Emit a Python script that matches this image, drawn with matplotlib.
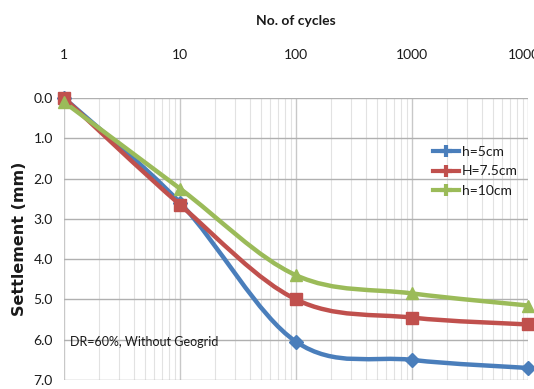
import numpy as np
import matplotlib
matplotlib.use("Agg")
import matplotlib.pyplot as plt
from matplotlib.path import Path
from matplotlib.patches import PathPatch
from matplotlib.lines import Line2D

cycles = [1, 10, 100, 1000, 10000]
h5 = [0.0, 2.6, 6.05, 6.5, 6.7]
h75 = [0.0, 2.65, 5.0, 5.45, 5.62]
h10 = [0.1, 2.25, 4.4, 4.85, 5.15]
series_labels = ["h=5cm", "H=7.5cm", "h=10cm"]
xtick_labels = ["1", "10", "100", "1000", "10000"]
ytick_vals = [0, 1, 2, 3, 4, 5, 6, 7]

narrow = "Lato"
tc = "#1a1a1a"

fig = plt.figure(figsize=(5.34, 3.89), dpi=100)
ax = fig.add_axes([0.12, 0.023, 0.869, 0.725])
ax.set_xscale("log")
ax.set_xlim(1, 10000)
ax.set_ylim(7, 0)

colors = ["#4a7ebb", "#c0504d", "#9bbb59"]
markers = ["D", "s", "^"]
msizes = [7, 8, 8]

def smooth_path(xs, ys):
    lx = np.log10(np.asarray(xs, float))
    yy = np.asarray(ys, float)
    P = np.column_stack([lx, yy])
    n = len(P)
    verts = [P[0]]
    codes = [Path.MOVETO]
    for i in range(n - 1):
        p0 = P[i - 1] if i > 0 else P[i]
        p1 = P[i]
        p2 = P[i + 1]
        p3 = P[i + 2] if i + 2 < n else P[i + 1]
        c1 = p1 + (p2 - p0) / 6.0
        c2 = p2 - (p3 - p1) / 6.0
        verts += [c1, c2, p2]
        codes += [Path.CURVE4] * 3
    verts = np.array(verts)
    verts[:, 0] = 10 ** verts[:, 0]
    return Path(verts, codes)

for ys, c, m, ms, lab in zip([h5, h75, h10], colors, markers, msizes, series_labels):
    patch = PathPatch(smooth_path(cycles, ys), facecolor="none", edgecolor=c, lw=3.2,
                      capstyle="round", joinstyle="round", zorder=3)
    ax.add_patch(patch)
    ax.plot(cycles, ys, linestyle="none", marker=m, color=c, markersize=ms, zorder=4,
            clip_on=False)

ax.set_yticks(ytick_vals)
ax.set_yticklabels([f"{v:.1f}" for v in ytick_vals], fontsize=10, family=narrow, color=tc)
ax.set_xticks(cycles)
ax.set_xticklabels(xtick_labels, fontsize=10, family=narrow, color=tc)
ax.xaxis.tick_top()
ax.xaxis.set_label_position("top")
ax.tick_params(axis="both", length=0, pad=8)
ax.tick_params(axis="x", pad=27)
ax.tick_params(axis="x", which="minor", length=0)
ax.grid(True, which="major", axis="y", color="#b0b0b0", lw=1.0)
ax.grid(True, which="major", axis="x", color="#c8c8c8", lw=1.0)
ax.grid(True, which="minor", axis="x", color="#e2e2e2", lw=0.8)
ax.set_axisbelow(True)
for s in ax.spines.values():
    s.set_visible(False)

ax.set_xlabel("No. of cycles", fontsize=10, family=narrow, fontweight="bold",
              labelpad=17, color=tc)
ax.set_ylabel("Settlement (mm)", fontsize=11.5, fontweight="bold", labelpad=5, color=tc)

ax.text(1.12, 6.05, "DR=60%, Without Geogrid", fontsize=9, family=narrow, va="center",
        ha="left", color=tc)

handles = [Line2D([0], [0], color=c, lw=3, marker="+", markersize=9, markeredgewidth=3)
           for c in colors]
leg = ax.legend(handles, series_labels, loc="upper right", bbox_to_anchor=(1.005, 0.875),
                frameon=False, handlelength=1.9, handletextpad=0.2, labelspacing=0.55,
                prop={"family": narrow, "size": 10})
for t in leg.get_texts():
    t.set_color(tc)

fig.savefig("out.png", dpi=100)
